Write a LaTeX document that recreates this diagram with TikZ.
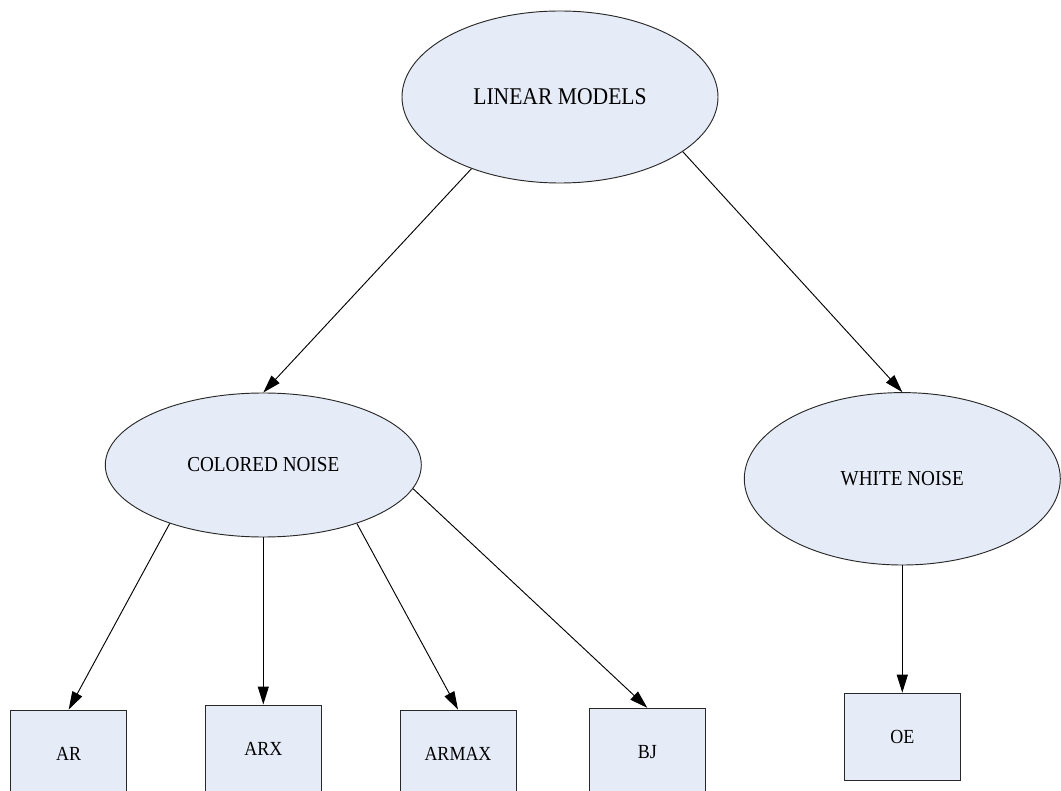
\documentclass[tikz,border=0pt]{standalone}
\usepackage{fontspec}
\setmainfont{Liberation Serif}[FakeStretch=0.9]
\usetikzlibrary{shapes.geometric,arrows.meta}
\definecolor{nodefill}{RGB}{230,236,247}
\definecolor{edgegray}{RGB}{40,40,40}
\begin{document}
\begin{tikzpicture}[x=0.75pt,y=-0.75pt,
  oval/.style={ellipse,draw=edgegray,line width=0.7pt,fill=nodefill,inner sep=0pt,
    minimum width=237pt},
  leafbox/.style={rectangle,draw=edgegray,line width=0.7pt,fill=nodefill,inner sep=0pt,
    minimum width=87pt,minimum height=65.25pt,font=\fontsize{15}{18}\selectfont},
  link/.style={draw=black,line width=0.7pt,-{Triangle[length=13.5pt,width=8.25pt]}}]
\useasboundingbox (0,0) rectangle (1061,791);
\clip (0,0) rectangle (1061,791);

% root and the two noise classes
\node[oval,minimum height=129pt,font=\fontsize{18}{21}\selectfont] (lin) at (560,97) {LINEAR MODELS};
\node[oval,minimum height=108pt,font=\fontsize{16}{19}\selectfont] (col) at (263.3,465) {COLORED NOISE};
\node[oval,minimum height=129.3pt,font=\fontsize{16}{19}\selectfont] (wht) at (902.3,478.8) {WHITE NOISE};

% model structures
\node[leafbox] (ar)    at (68.7,753.5)  {AR};
\node[leafbox] (arx)   at (263.3,748.5) {ARX};
\node[leafbox] (armax) at (458,753.5)   {ARMAX};
\node[leafbox] (bj)    at (647.3,751.8) {BJ};
\node[leafbox] (oe)    at (902.3,736.7) {OE};

% connectors
\draw[link] (lin.-141.3) -- (col.north);
\draw[link] (lin.-24.3)  -- (wht.north);
\draw[link] (col.-148.5) -- (ar.north);
\draw[link] (col.south)  -- (arx.north);
\draw[link] (col.-32)    -- (armax.north);
\draw[link] (col.-9.9)   -- (bj.north);
\draw[link] (wht.south)  -- (oe.north);
\end{tikzpicture}
\end{document}
